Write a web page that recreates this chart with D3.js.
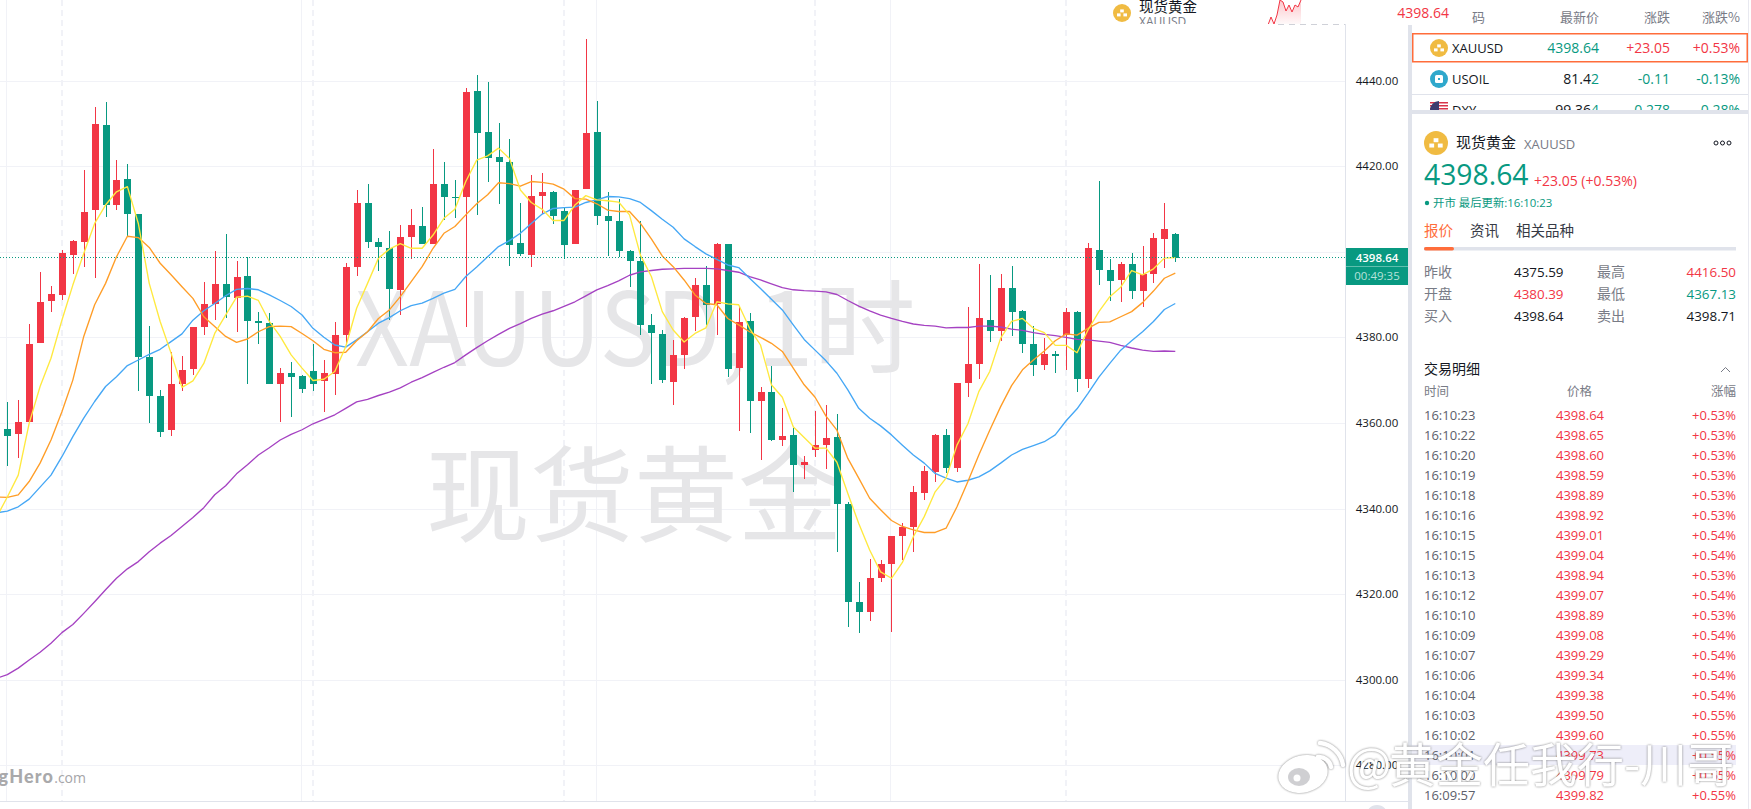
<!DOCTYPE html>
<html><head><meta charset="utf-8">
<script src="https://cdnjs.cloudflare.com/ajax/libs/d3/7.8.5/d3.min.js"></script>
<style>html,body{margin:0;padding:0;background:#fff;overflow:hidden}svg{display:block}text{font-family:"Open Sans","Noto Sans CJK SC",sans-serif}</style>
</head><body><svg id="c" width="1751" height="809"></svg>
<script>
const opens=[4358.6,4357.3,4360.2,4378.7,4388.5,4389.9,4399.2,4402.3,4409.7,4429.6,4410.9,4417.0,4408.8,4375.4,4366.3,4358.3,4369.1,4372.6,4382.4,4387.8,4392.5,4389.2,4394.3,4383.8,4383.3,4369.1,4371.7,4371.0,4372.1,4369.8,4371.4,4380.5,4396.4,4411.4,4402.3,4400.9,4391.1,4403.4,4406.0,4401.8,4415.8,4412.8,4412.8,4437.6,4428.0,4422.1,4421.0,4402.0,4399.2,4413.0,4414.0,4409.5,4401.8,4414.6,4428.0,4408.3,4407.2,4400.2,4397.8,4382.9,4380.8,4369.6,4375.9,4384.8,4392.2,4387.8,4401.8,4372.8,4383.8,4365.2,4367.2,4356.0,4357.2,4350.2,4353.7,4354.8,4356.7,4341.1,4318.2,4315.8,4323.8,4327.0,4333.6,4335.7,4343.6,4348.5,4357.2,4349.5,4369.3,4373.8,4384.0,4381.5,4391.5,4386.2,4378.4,4373.5,4376.1,4380.5,4385.9,4370.3,4400.4,4395.7,4393.4,4397.1,4390.8,4394.8,4403.0,4404.1];
const closes=[4357.0,4360.2,4378.4,4388.3,4390.1,4399.7,4402.5,4409.3,4429.8,4410.9,4416.8,4408.8,4375.4,4366.3,4357.9,4369.1,4372.4,4382.4,4387.8,4392.5,4389.4,4394.1,4383.8,4383.3,4369.1,4371.7,4370.7,4367.9,4369.1,4371.7,4380.5,4396.4,4411.4,4402.3,4401.1,4391.3,4403.4,4406.2,4401.8,4415.8,4412.8,4412.6,4437.3,4427.7,4421.9,4421.0,4401.6,4399.5,4413.0,4414.0,4408.3,4401.6,4414.4,4427.7,4408.3,4407.2,4400.2,4397.8,4382.9,4381.0,4370.0,4375.9,4384.5,4392.2,4387.6,4401.8,4372.6,4383.6,4365.2,4367.2,4356.0,4356.9,4350.2,4350.9,4354.8,4356.5,4341.1,4318.2,4315.8,4323.8,4327.0,4333.6,4335.7,4343.9,4348.8,4357.2,4349.5,4369.3,4373.8,4384.5,4381.5,4391.5,4385.9,4378.4,4373.5,4376.1,4375.6,4385.9,4370.3,4400.9,4395.7,4393.2,4397.1,4390.8,4394.8,4403.2,4405.3,4398.64];
const highs=[4364.8,4365.4,4383.1,4395.3,4392.0,4400.4,4402.7,4419.1,4433.8,4435.0,4421.4,4420.5,4408.8,4382.6,4367.7,4376.6,4375.6,4382.4,4392.9,4400.2,4404.1,4397.8,4398.8,4385.9,4385.7,4372.8,4374.2,4371.2,4378.4,4374.7,4383.6,4397.4,4414.4,4415.8,4403.2,4404.8,4406.2,4410.0,4410.5,4424.0,4421.0,4416.8,4438.3,4441.3,4439.7,4430.1,4426.3,4411.4,4417.9,4418.4,4414.2,4410.2,4414.4,4449.7,4435.2,4414.0,4412.3,4400.4,4407.2,4385.4,4381.7,4379.4,4384.8,4393.9,4396.7,4402.0,4401.8,4387.1,4385.7,4368.4,4373.3,4363.5,4358.8,4352.3,4362.8,4364.2,4362.1,4341.5,4322.8,4328.2,4328.0,4333.6,4336.6,4345.3,4349.9,4357.4,4358.6,4369.3,4387.1,4397.1,4394.6,4394.8,4396.7,4386.4,4382.6,4379.8,4376.8,4386.9,4386.2,4402.0,4416.5,4398.3,4397.6,4399.7,4401.3,4404.4,4411.4,4404.4];
const lows=[4350.0,4351.9,4360.2,4378.7,4385.9,4388.7,4394.8,4396.4,4393.9,4408.1,4409.7,4403.4,4367.5,4360.0,4356.7,4356.9,4367.5,4371.2,4380.5,4384.0,4384.5,4381.2,4369.1,4378.4,4369.1,4360.2,4361.4,4367.0,4367.5,4362.6,4366.5,4378.4,4394.3,4400.9,4395.5,4384.0,4385.2,4398.3,4401.8,4401.8,4407.4,4407.9,4382.4,4408.6,4416.3,4411.2,4396.7,4399.0,4396.4,4408.8,4406.5,4398.3,4401.8,4414.6,4406.2,4399.0,4398.8,4391.8,4380.5,4369.1,4369.3,4364.2,4372.6,4381.5,4382.9,4380.5,4370.7,4358.0,4357.7,4351.3,4355.8,4354.6,4343.9,4346.9,4352.0,4349.2,4329.8,4312.3,4310.9,4313.7,4322.8,4311.2,4328.0,4329.8,4342.0,4346.2,4348.3,4348.5,4366.1,4370.3,4378.9,4379.1,4380.3,4376.3,4371.0,4372.4,4371.7,4372.4,4367.2,4368.2,4392.2,4388.5,4388.3,4389.0,4387.1,4392.7,4396.2,4397.6];
// moving averages start one bar before the first visible candle
const ma5=[4337.9,4342.7,4347.8,4359.9,4368.5,4375.1,4384.0,4392.2,4399.6,4406.6,4410.9,4414.0,4415.2,4406.6,4392.6,4383.7,4376.3,4368.3,4369.8,4373.9,4380.9,4385.2,4389.4,4389.6,4388.6,4383.7,4380.2,4375.9,4372.8,4369.9,4370.2,4372.0,4377.8,4386.8,4392.6,4398.5,4400.6,4401.9,4400.8,4400.8,4403.9,4407.8,4409.9,4416.4,4421.4,4422.4,4424.2,4421.8,4414.4,4411.5,4409.9,4407.3,4407.3,4410.9,4413.1,4412.1,4411.9,4411.6,4408.6,4399.2,4394.2,4386.0,4381.7,4378.9,4380.9,4382.2,4388.3,4387.8,4387.6,4382.1,4378.2,4368.9,4366.0,4359.1,4356.6,4354.1,4354.1,4350.8,4343.5,4336.5,4330.3,4325.2,4323.7,4327.4,4333.4,4338.1,4343.9,4347.1,4354.8,4359.8,4367.3,4372.0,4379.8,4383.7,4384.4,4382.1,4381.1,4378.1,4378.1,4376.4,4381.7,4386.0,4389.5,4391.7,4395.6,4394.6,4396.0,4398.5,4398.6];
const ma10=[4342.7,4342.6,4343.2,4346.3,4350.6,4356.0,4362.6,4370.0,4380.2,4387.6,4392.6,4398.8,4403.6,4403.3,4401.0,4397.3,4394.6,4391.8,4389.1,4384.8,4382.5,4380.2,4378.8,4379.6,4381.3,4382.5,4382.6,4382.5,4380.9,4379.2,4377.2,4376.4,4376.5,4379.2,4381.3,4384.4,4386.4,4389.5,4393.0,4396.5,4400.8,4404.3,4405.9,4408.6,4411.2,4413.3,4416.1,4415.9,4415.3,4416.4,4416.2,4415.8,4414.6,4412.4,4412.3,4411.2,4409.7,4409.4,4409.4,4406.6,4403.0,4399.0,4396.5,4393.4,4389.9,4387.9,4387.6,4384.4,4382.9,4381.3,4380.0,4378.6,4376.7,4372.8,4368.9,4366.0,4361.6,4358.3,4351.7,4347.1,4342.4,4339.7,4337.2,4335.8,4335.0,4334.4,4334.4,4335.4,4340.4,4346.3,4352.5,4358.3,4363.8,4368.7,4372.4,4374.7,4376.8,4379.2,4380.8,4380.5,4382.1,4383.5,4383.6,4384.8,4386.0,4388.1,4390.8,4393.8,4395.0];
const ma20=[4339.0,4339.4,4340.4,4342.2,4345.0,4347.8,4352.1,4356.8,4361.1,4365.0,4368.5,4370.8,4373.4,4374.7,4376.0,4377.2,4379.0,4380.8,4384.0,4386.2,4387.9,4389.7,4391.2,4391.4,4391.1,4389.9,4388.6,4387.2,4385.2,4382.1,4380.0,4378.2,4377.7,4379.4,4381.3,4383.3,4384.6,4386.2,4387.4,4388.0,4389.1,4390.3,4391.2,4394.2,4396.4,4398.8,4401.2,4402.6,4404.3,4406.6,4408.8,4410.1,4410.3,4410.4,4411.5,4412.1,4412.9,4412.8,4412.4,4411.5,4409.6,4407.6,4405.7,4403.0,4401.2,4399.5,4398.2,4396.9,4396.3,4393.8,4391.4,4388.9,4386.4,4382.9,4379.5,4377.0,4374.5,4371.6,4367.7,4363.4,4361.1,4359.3,4357.2,4354.8,4352.5,4350.6,4348.2,4347.1,4346.2,4346.6,4347.4,4348.8,4350.6,4352.5,4353.8,4354.7,4355.6,4357.2,4360.5,4363.3,4366.9,4370.7,4373.9,4377.0,4379.2,4381.3,4383.7,4386.5,4387.9];
const ma60=[4300.3,4301.2,4302.7,4304.6,4306.4,4308.5,4311.0,4312.9,4315.5,4318.2,4321.0,4323.7,4325.9,4327.6,4329.9,4331.9,4333.7,4335.8,4337.9,4340.2,4343.2,4345.3,4348.1,4350.2,4352.5,4354.2,4356.0,4357.3,4358.4,4359.8,4360.8,4361.9,4363.4,4364.9,4365.5,4366.4,4367.2,4368.2,4369.5,4370.6,4371.8,4373.0,4374.1,4375.9,4377.6,4379.2,4380.7,4382.1,4383.2,4384.4,4385.4,4386.2,4387.2,4388.3,4389.7,4391.1,4392.1,4393.2,4394.5,4395.3,4395.6,4395.9,4396.0,4396.1,4396.1,4396.1,4396.0,4395.6,4395.2,4394.2,4393.4,4392.5,4391.6,4391.1,4390.9,4390.8,4390.6,4390.0,4388.6,4387.3,4386.2,4385.2,4384.4,4383.7,4383.1,4382.8,4382.6,4382.2,4382.3,4382.3,4382.6,4382.6,4382.4,4381.9,4381.6,4381.1,4380.7,4380.4,4380.0,4379.5,4379.4,4379.1,4378.8,4378.1,4377.5,4377.0,4376.7,4376.8,4376.7];
const priceTicks=[4440,4420,4400,4380,4360,4340,4320,4300,4280];
const solidBars=[0,27,54,81];
const dashedBars=[5,28,51,74,97];
const lastPrice=4398.64;
const sparkVals=[0,8,1,10,25,23,14,20,13,20,18,25];
const watchRows=[["XAUUSD","4398.64","+23.05","+0.53%"],["USOIL","81.42","-0.11","-0.13%"],["DXY","99.364","-0.278","-0.28%"]];
const statRows=[["昨收","4375.59","最高","4416.50"],["开盘","4380.39","最低","4367.13"],["买入","4398.64","卖出","4398.71"]];
const tradeTimes=["16:10:23","16:10:22","16:10:20","16:10:19","16:10:18","16:10:16","16:10:15","16:10:15","16:10:13","16:10:12","16:10:10","16:10:09","16:10:07","16:10:06","16:10:04","16:10:03","16:10:02","16:10:01","16:10:00","16:09:57"];
const tradePrices=["4398.64","4398.65","4398.60","4398.59","4398.89","4398.92","4399.01","4399.04","4398.94","4399.07","4398.89","4399.08","4399.29","4399.34","4399.38","4399.50","4399.60","4399.73","4399.79","4399.82"];
const tradePcts=["+0.53%","+0.53%","+0.53%","+0.53%","+0.53%","+0.53%","+0.54%","+0.54%","+0.53%","+0.54%","+0.53%","+0.54%","+0.54%","+0.54%","+0.54%","+0.55%","+0.55%","+0.55%","+0.55%","+0.55%"];

const RED="#f23645",GREEN="#089981",LINE="#e0e3eb",GRID="#f1f2f7",ORANGE="#ff6d3b",GREY="#787b86",INK="#131722",MARK="#e6e6e8";
const CJK='"Noto Sans CJK SC","Open Sans",sans-serif';
const svg=d3.select("#c");
const defs=svg.append("defs");
defs.append("clipPath").attr("id","plot").append("rect").attr("width",1345).attr("height",801);
defs.append("clipPath").attr("id","watch").append("rect").attr("x",1412).attr("y",0).attr("width",339).attr("height",110);
defs.append("clipPath").attr("id","legend").append("rect").attr("x",1090).attr("y",0).attr("width",260).attr("height",24);
const grad=defs.append("linearGradient").attr("id","spark").attr("x1",0).attr("x2",0).attr("y1",0).attr("y2",1);
grad.append("stop").attr("offset",0).attr("stop-color",RED).attr("stop-opacity",.28);
grad.append("stop").attr("offset",1).attr("stop-color",RED).attr("stop-opacity",.02);

const x=d3.scaleLinear().domain([0,107]).range([7.33,1175.3]);
const y=d3.scaleLinear().domain([4440,4280]).range([80.5,765.3]);
const n=opens.length;
const bars=d3.range(n);
const plot=svg.append("g").attr("clip-path","url(#plot)");

// grid
plot.selectAll(".gh").data(priceTicks).join("line").attr("x1",0).attr("x2",1345)
  .attr("y1",d=>Math.round(y(d))+.5).attr("y2",d=>Math.round(y(d))+.5).attr("stroke",GRID);
plot.selectAll(".gv").data(solidBars).join("line").attr("y1",0).attr("y2",801)
  .attr("x1",d=>Math.round(x(d))-.5).attr("x2",d=>Math.round(x(d))-.5).attr("stroke",GRID);
plot.selectAll(".gd").data(dashedBars).join("line").attr("y1",0).attr("y2",801)
  .attr("x1",d=>Math.round(x(d))).attr("x2",d=>Math.round(x(d))).attr("stroke",GRID).attr("stroke-width",2).attr("stroke-dasharray","6 4");

// watermarks
plot.append("text").attr("x",355).attr("y",366).attr("font-size",102).attr("fill",MARK).style("font-family",CJK)
  .attr("textLength",392).attr("lengthAdjust","spacingAndGlyphs").text("XAUUSD,");
plot.append("text").attr("x",757).attr("y",366).attr("font-size",102).attr("fill",MARK).style("font-family",CJK).text("1时");
plot.append("text").attr("x",426).attr("y",534).attr("font-size",104).attr("fill",MARK).style("font-family",CJK).text("现货黄金");

// candles
const col=i=>closes[i]>=opens[i]?RED:GREEN;
plot.selectAll(".w").data(bars).join("line").attr("shape-rendering","crispEdges")
  .attr("x1",i=>Math.round(x(i))+.5).attr("x2",i=>Math.round(x(i))+.5)
  .attr("y1",i=>y(highs[i])).attr("y2",i=>y(lows[i])).attr("stroke",col);
plot.selectAll(".b").data(bars).join("rect").attr("shape-rendering","crispEdges")
  .attr("x",i=>Math.round(x(i))-3).attr("width",7)
  .attr("y",i=>y(Math.max(opens[i],closes[i])))
  .attr("height",i=>Math.max(1,Math.abs(y(opens[i])-y(closes[i])))).attr("fill",col);

// moving averages
const line=d3.line().x((d,i)=>x(i-1)).y(d=>y(d));
[[ma60,"#a542c2"],[ma20,"#45a7f5"],[ma10,"#ff9d27"],[ma5,"#ffe93f"]].forEach(([s,c])=>{
  plot.append("path").attr("d",line(s)).attr("fill","none").attr("stroke",c).attr("stroke-width",1.35).attr("stroke-linejoin","round");
});
// last price
plot.append("line").attr("x1",0).attr("x2",1345).attr("y1",y(lastPrice)).attr("y2",y(lastPrice))
  .attr("stroke",GREEN).attr("stroke-dasharray","1 2");

// logo
const logo=plot.append("text").attr("x",86).attr("y",783).attr("text-anchor","end").attr("fill","#a9a9ab").attr("font-size",18);
logo.append("tspan").attr("font-weight",900).attr("letter-spacing",1.2).style("font-family","Lato").text("TradingHero");
logo.append("tspan").attr("font-size",14).attr("fill","#a5a5a8").text(".com");

// axis
svg.append("line").attr("x1",1345.5).attr("x2",1345.5).attr("y1",24).attr("y2",801).attr("stroke",LINE);
svg.append("line").attr("x1",1345).attr("x2",1408).attr("y1",801.5).attr("y2",801.5).attr("stroke",LINE);
svg.append("line").attr("x1",0).attr("x2",1345).attr("y1",801.5).attr("y2",801.5).attr("stroke",LINE);
const axis=svg.append("g").attr("transform","translate(1377,0)").call(d3.axisRight(y).tickValues(priceTicks).tickSize(0).tickPadding(0).tickFormat(d3.format(".2f")));
axis.select(".domain").remove();
axis.selectAll("text").attr("text-anchor","middle").attr("font-size",11.5).attr("fill",INK).style("font-family",'"Open Sans"');
svg.append("rect").attr("x",1346).attr("y",248).attr("width",62).attr("height",37).attr("fill",GREEN);
svg.append("line").attr("x1",1346).attr("x2",1408).attr("y1",266.5).attr("y2",266.5).attr("stroke","#5fbfae");
svg.append("text").attr("x",1377).attr("y",257.5).attr("dy","0.35em").attr("text-anchor","middle").attr("font-size",11.5).attr("font-weight",600).attr("fill","#fff").text(d3.format(".2f")(lastPrice));
svg.append("text").attr("x",1377).attr("y",275.5).attr("dy","0.35em").attr("text-anchor","middle").attr("font-size",11.5).attr("fill","#b7e2da").text("00:49:35");
svg.append("circle").attr("cx",1377).attr("cy",816).attr("r",11).attr("fill",LINE);

// top legend
const gold=(cx,cy,r,g=svg)=>{
  g.append("circle").attr("cx",cx).attr("cy",cy).attr("r",r).attr("fill","#f0bb42");
  const u=r/9;
  [[-1.8,-3.6],[-5,.4],[1.4,.4]].forEach(([a,b])=>g.append("rect").attr("x",cx+a*u).attr("y",cy+b*u).attr("width",3.6*u).attr("height",3*u).attr("fill","#fff"));
};
const lg=svg.append("g").attr("clip-path","url(#legend)");
gold(1122,13,9,lg);
lg.append("text").attr("x",1139).attr("y",7).attr("dy","0.35em").attr("font-size",14.5).attr("fill",INK).style("font-family",CJK).text("现货黄金");
lg.append("text").attr("x",1139).attr("y",22).attr("dy","0.35em").attr("font-size",12).attr("fill",GREY).text("XAUUSD");
const sx=d3.scaleLinear().domain([0,sparkVals.length-1]).range([1268,1301]);
const sy=d3.scaleLinear().domain([0,25]).range([25,0]);
lg.append("path").attr("d",d3.area().x((d,i)=>sx(i)).y0(24).y1(d=>sy(d))(sparkVals)).attr("fill","url(#spark)");
lg.append("path").attr("d",d3.line().x((d,i)=>sx(i)).y(d=>sy(d))(sparkVals)).attr("fill","none").attr("stroke",RED).attr("stroke-width",1);
svg.append("line").attr("x1",1278).attr("x2",1345).attr("y1",24.5).attr("y2",24.5).attr("stroke","#cfd1d8").attr("stroke-dasharray","6 5");

// right panel frame
svg.append("rect").attr("x",1408).attr("y",25).attr("width",4).attr("height",784).attr("fill",LINE);
svg.append("line").attr("x1",1748.5).attr("x2",1748.5).attr("y1",0).attr("y2",809).attr("stroke","#e8e9f0");

const txt=(t,xx,yy,size,fill,anchor="start",fam=null,g=svg)=>{
  const e=g.append("text").attr("x",xx).attr("y",yy).attr("dy","0.35em").attr("font-size",size).attr("fill",fill).attr("text-anchor",anchor).text(t);
  if(fam)e.style("font-family",fam);return e;
};
txt("4398.64",1449,13,14,RED,"end");
txt("码",1472,17,13,GREY,"start",CJK);
txt("最新价",1599,17,13,GREY,"end",CJK);
txt("涨跌",1670,17,13,GREY,"end",CJK);
txt("涨跌%",1740,17,13,GREY,"end",CJK);

// watch list
const wl=svg.append("g").attr("clip-path","url(#watch)");
wl.append("rect").attr("x",1412.75).attr("y",33.75).attr("width",334.5).attr("height",28).attr("fill","none").attr("stroke",ORANGE).attr("stroke-width",1.5);
wl.append("line").attr("x1",1412).attr("x2",1748).attr("y1",94.5).attr("y2",94.5).attr("stroke",LINE);
gold(1439,48,9,wl);
wl.append("circle").attr("cx",1439).attr("cy",79).attr("r",9).attr("fill","#2fa8cc");
wl.append("rect").attr("x",1435).attr("y",75).attr("width",8).attr("height",8).attr("rx",1.5).attr("fill","#fff");
wl.append("rect").attr("x",1438).attr("y",78).attr("width",2).attr("height",2).attr("fill","#2fa8cc");
wl.append("circle").attr("cx",1439).attr("cy",110).attr("r",9).attr("fill","#fff");
[102,105,108].forEach(v=>wl.append("rect").attr("x",1430).attr("y",v).attr("width",18).attr("height",1.5).attr("fill","#d8344a"));
wl.append("path").attr("d","M1439 101a9 9 0 0 0-9 9h9z").attr("fill","#3c3b6e");
[48,79,110].forEach((cy,i)=>{
  const r=watchRows[i],up=i===0;
  txt(r[0],1452,cy,13,INK,"start",null,wl);
  if(i===0)txt(r[1],1599,cy,14,GREEN,"end",null,wl);
  else{const t=txt(r[1].slice(0,-1),1599,cy,14,INK,"end",null,wl);t.append("tspan").attr("fill",GREEN).text(r[1].slice(-1));}
  txt(r[2],1670,cy,14,up?RED:GREEN,"end",null,wl);
  txt(r[3],1740,cy,14,up?RED:GREEN,"end",null,wl);
});
svg.append("rect").attr("x",1412).attr("y",110).attr("width",336).attr("height",4).attr("fill",LINE);

// quote header
gold(1436,143,12);
txt("现货黄金",1456,143,15,INK,"start",CJK);
txt("XAUUSD",1524,144,13,GREY);
[1716,1722.5,1729].forEach(c=>svg.append("circle").attr("cx",c).attr("cy",143).attr("r",2).attr("fill","none").attr("stroke",INK).attr("stroke-width",1));
svg.append("text").attr("x",1424).attr("y",185).attr("font-size",28.3).attr("fill",GREEN).text("4398.64");
txt("+23.05 (+0.53%)",1534,181,14,RED);
svg.append("circle").attr("cx",1427).attr("cy",203).attr("r",2.2).attr("fill",GREEN);
txt("开市 最后更新:16:10:23",1433,203,11.4,GREEN);
txt("报价",1424,231,14.5,ORANGE,"start",CJK);
txt("资讯",1470,231,14.5,"#363a45","start",CJK);
txt("相关品种",1516,231,14.5,"#363a45","start",CJK);
svg.append("rect").attr("x",1424).attr("y",247).attr("width",312).attr("height",3.5).attr("fill",LINE);
svg.append("rect").attr("x",1424).attr("y",247).attr("width",30).attr("height",3.5).attr("rx",1.7).attr("fill",ORANGE);

// stats
const statCol=[[INK,RED],[RED,GREEN],[INK,INK]];
statRows.forEach((r,i)=>{
  const cy=272+i*22;
  txt(r[0],1424,cy,14,GREY,"start",CJK);
  txt(r[1],1514,cy,13.4,statCol[i][0]);
  txt(r[2],1597,cy,14,GREY,"start",CJK);
  txt(r[3],1736,cy,13.4,statCol[i][1],"end");
});

// trades
txt("交易明细",1424,369,14,INK,"start",CJK);
svg.append("path").attr("d","M1721 372l4.5-4.5 4.5 4.5").attr("fill","none").attr("stroke",GREY).attr("stroke-width",1);
txt("时间",1424,391.5,12.5,GREY,"start",CJK);
txt("价格",1592,391.5,12.5,GREY,"end",CJK);
txt("涨幅",1736,391.5,12.5,GREY,"end",CJK);
svg.append("rect").attr("x",1412).attr("y",745).attr("width",324).attr("height",20).attr("fill","#eeeef9");
tradeTimes.forEach((t,i)=>{
  const cy=415+i*20;
  txt(t,1424,cy,13,"#5d606b");
  txt(tradePrices[i],1604,cy,13,RED,"end");
  txt(tradePcts[i],1736,cy,13,RED,"end");
});

// weibo watermark
const wm=svg.append("g").attr("style","filter:drop-shadow(0 0 1.2px rgba(90,90,90,.75))");
wm.append("ellipse").attr("cx",1303).attr("cy",774).attr("rx",25).attr("ry",18.5).attr("fill","#fff").attr("transform","rotate(-14 1303 774)");
wm.append("ellipse").attr("cx",1299).attr("cy",777).attr("rx",11).attr("ry",9).attr("fill","#cfcfd2");
wm.append("circle").attr("cx",1297).attr("cy",778).attr("r",3.5).attr("fill","#fff");
wm.append("path").attr("d","M1318 757a12 12 0 0 1 13 10M1320 743a26 26 0 0 1 23 22").attr("fill","none").attr("stroke","#fff").attr("stroke-width",4.5).attr("stroke-linecap","round");
const wmT=wm.append("text").attr("x",1347).attr("y",782).attr("font-size",47).attr("fill","#fff").style("font-family",CJK);
wmT.append("tspan").text("@");
wmT.append("tspan").attr("x",1389).text("黄金任我行-川哥");
</script></body></html>
